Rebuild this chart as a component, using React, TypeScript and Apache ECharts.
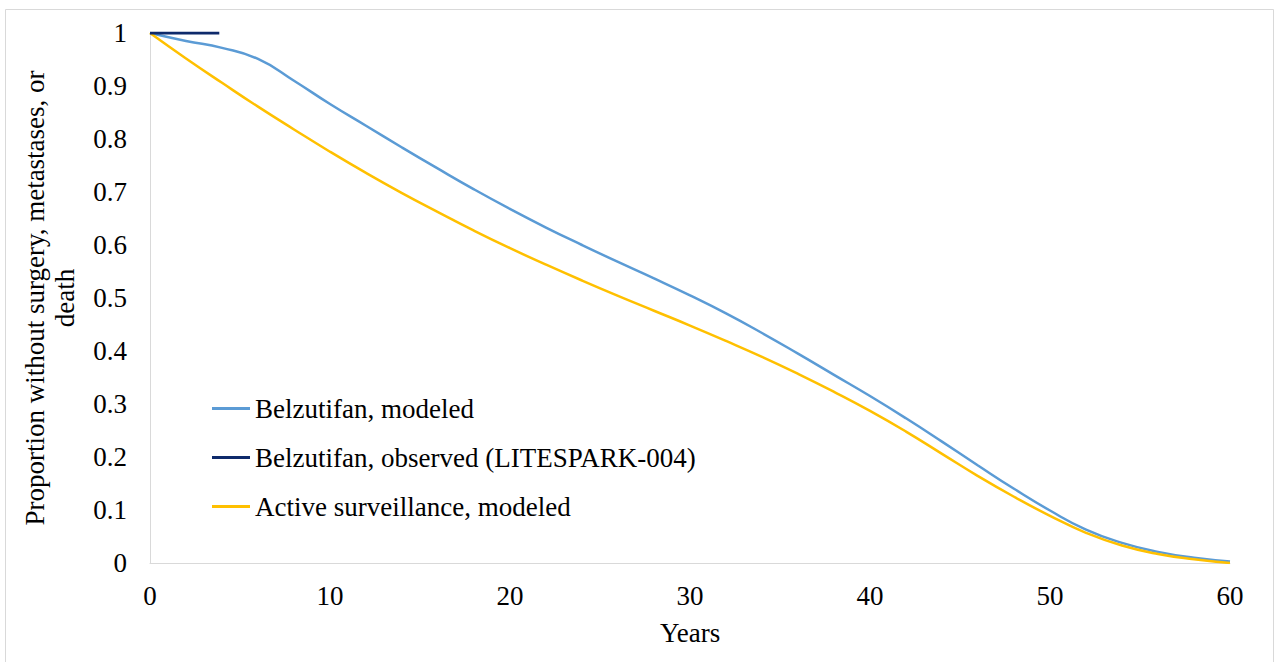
import React, { useEffect, useRef } from "react";
import * as echarts from "echarts";

const years = [0, 2, 4, 6, 8, 10, 12, 14, 16, 18, 20, 22, 24, 26, 28, 30, 32, 34, 36, 38, 40, 42, 44, 46, 48, 50, 52, 54, 56, 58, 60];
const belzModeled = [1.0, 0.985, 0.972, 0.951, 0.91, 0.866, 0.825, 0.784, 0.744, 0.705, 0.668, 0.633, 0.6, 0.568, 0.537, 0.505, 0.471, 0.434, 0.395, 0.355, 0.315, 0.273, 0.229, 0.184, 0.14, 0.099, 0.063, 0.038, 0.021, 0.01, 0.003];
const activeModeled = [1.0, 0.952, 0.906, 0.861, 0.818, 0.776, 0.736, 0.698, 0.662, 0.627, 0.594, 0.563, 0.533, 0.504, 0.476, 0.448, 0.419, 0.389, 0.357, 0.323, 0.287, 0.248, 0.206, 0.164, 0.125, 0.089, 0.057, 0.033, 0.017, 0.007, 0.0];
const observedYears = [0, 3.85];
const observedValues = [1, 1];

const seriesNames = [
  "Belzutifan, modeled",
  "Belzutifan, observed (LITESPARK-004)",
  "Active surveillance, modeled",
];
const seriesColors = ["#5B9BD5", "#0E2A6B", "#FFC000"];
const xTitle = "Years";
const yTitle = "Proportion without surgery, metastases, or\ndeath";

const FONT = "Liberation Serif, Times New Roman, serif";
const FS = 27;

export default function App() {
  const ref = useRef<HTMLDivElement>(null);
  useEffect(() => {
    if (!ref.current) return;
    const chart = echarts.init(ref.current, null, { renderer: "svg" });
    const zip = (xs: number[], ys: number[]) => xs.map((x, i) => [x, ys[i]]);
    const txt = { fontFamily: FONT, fontSize: FS, color: "#000" };
    chart.setOption({
      animation: false,
      backgroundColor: "#ffffff",
      textStyle: { fontFamily: FONT },
      graphic: [
        {
          type: "rect",
          shape: { x: 5.5, y: 9.5, width: 1268, height: 700 },
          style: { fill: "none", stroke: "#D9D9D9", lineWidth: 1 },
          silent: true,
        },
      ],
      grid: { left: 150, right: 50, top: 33, bottom: 99 },
      legend: {
        orient: "vertical",
        left: 207,
        top: 390,
        itemWidth: 38,
        itemHeight: 3,
        itemGap: 22,
        itemTextGap: 5,
        data: seriesNames.map((n, i) => ({
          name: n,
          icon: "rect",
          itemStyle: { color: seriesColors[i] },
        })),
        textStyle: { ...txt, lineHeight: FS },
      },
      xAxis: {
        type: "value",
        min: 0,
        max: 60,
        interval: 10,
        name: xTitle,
        nameLocation: "middle",
        nameGap: 56,
        nameTextStyle: txt,
        axisLine: { show: true, lineStyle: { color: "#D9D9D9", width: 1 } },
        axisTick: { show: false },
        splitLine: { show: false },
        axisLabel: { ...txt, margin: 19 },
      },
      yAxis: {
        type: "value",
        min: 0,
        max: 1,
        interval: 0.1,
        name: yTitle,
        nameLocation: "middle",
        nameRotate: 90,
        nameGap: 70,
        nameTextStyle: { ...txt, lineHeight: 30, align: "center" },
        axisLine: { show: true, lineStyle: { color: "#D9D9D9", width: 1 } },
        axisTick: { show: false },
        splitLine: { show: false },
        axisLabel: {
          ...txt,
          margin: 23,
          formatter: (v: number) => String(Math.round(v * 10) / 10),
        },
      },
      series: [
        {
          name: seriesNames[0],
          type: "line",
          smooth: 0.5,
          symbol: "none",
          data: zip(years, belzModeled),
          lineStyle: { color: seriesColors[0], width: 2.5 },
          itemStyle: { color: seriesColors[0] },
          z: 2,
        },
        {
          name: seriesNames[2],
          type: "line",
          smooth: 0.5,
          symbol: "none",
          data: zip(years, activeModeled),
          lineStyle: { color: seriesColors[2], width: 2.5 },
          itemStyle: { color: seriesColors[2] },
          z: 3,
        },
        {
          name: seriesNames[1],
          type: "line",
          symbol: "none",
          data: zip(observedYears, observedValues),
          lineStyle: { color: seriesColors[1], width: 3 },
          itemStyle: { color: seriesColors[1] },
          z: 4,
        },
      ],
    });
    return () => chart.dispose();
  }, []);
  return (
    <div
      ref={ref}
      style={{ position: "fixed", left: 0, top: 0, width: 1280, height: 662, background: "#fff" }}
    />
  );
}
